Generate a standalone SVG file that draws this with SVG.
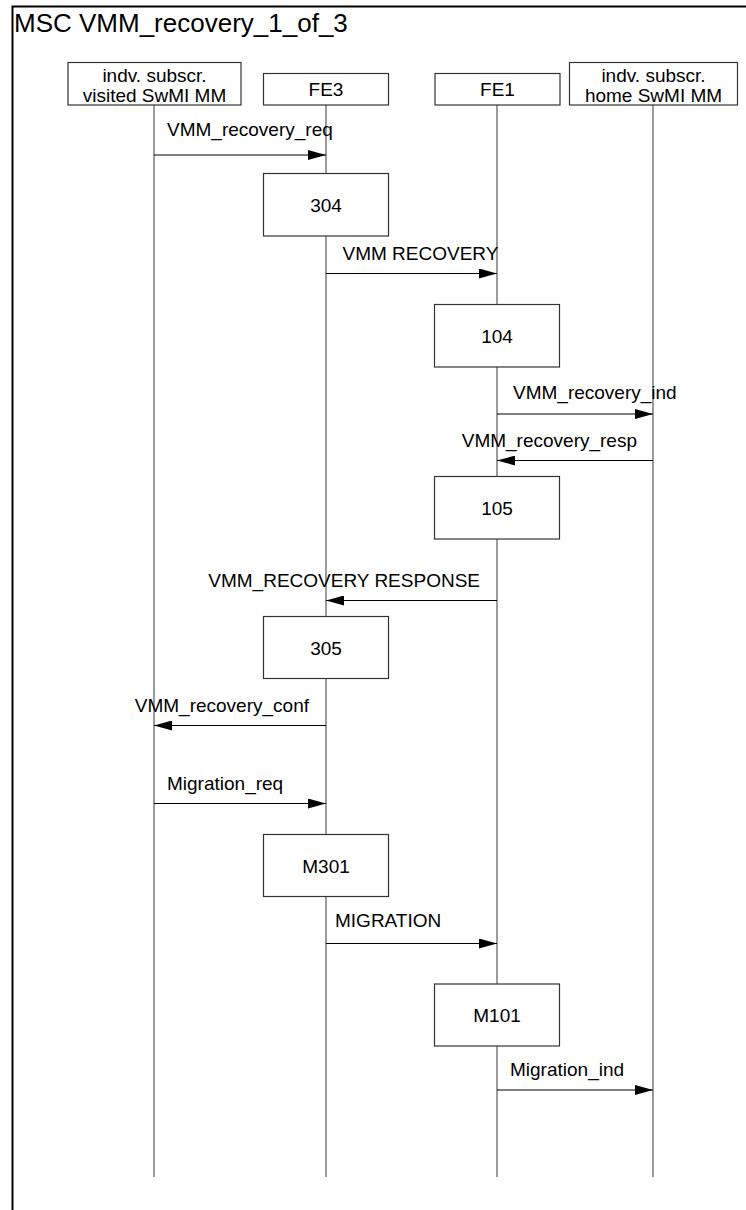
<svg xmlns="http://www.w3.org/2000/svg" width="746" height="1210" viewBox="0 0 746 1210">
<style>
text{font-family:"Liberation Sans",Arial,sans-serif;fill:#000}
.title{font-size:26px}
.hd{font-size:19px;text-anchor:middle}
.lbl{font-size:19px}
.end{text-anchor:end}
.num{font-size:19px;text-anchor:middle}
.box{fill:#fff;stroke:#333;stroke-width:1.2}
.life{stroke:#666;stroke-width:1.3;fill:none}
.msg{stroke:#000;stroke-width:1.2;fill:none;marker-end:url(#ah)}
.frame{stroke:#000;stroke-width:2;fill:none}
</style>
<defs>
<marker id="ah" markerUnits="userSpaceOnUse" markerWidth="18" markerHeight="10" refX="18" refY="5" orient="auto">
<path d="M0,0 L18,5 L0,10 z" fill="#000"/>
</marker>
</defs>
<rect width="746" height="1210" fill="#fff"/>
<path class="frame" d="M12.5,1210 V6.5 H746"/>
<text class="title" x="14" y="31.5">MSC VMM_recovery_1_of_3</text>

<g id="lifelines">
<line class="life" x1="154" y1="105" x2="154" y2="1177"/>
<line class="life" x1="326" y1="105" x2="326" y2="1177"/>
<line class="life" x1="497" y1="105" x2="497" y2="1177"/>
<line class="life" x1="653" y1="105" x2="653" y2="1177"/>
</g>

<g id="inst_visited">
<rect class="box" x="68" y="62.5" width="173" height="42.5"/>
<text class="hd" x="154.5" y="81.5">indv. subscr.</text>
<text class="hd" x="154.5" y="101.5">visited SwMI MM</text>
</g>
<g id="inst_FE3">
<rect class="box" x="263.5" y="73.5" width="125" height="31.5"/>
<text class="hd" x="326" y="96">FE3</text>
</g>
<g id="inst_FE1">
<rect class="box" x="435" y="73.5" width="125" height="31.5"/>
<text class="hd" x="497.5" y="96">FE1</text>
</g>
<g id="inst_home">
<rect class="box" x="569.5" y="62.5" width="168" height="42.5"/>
<text class="hd" x="653.5" y="81.5">indv. subscr.</text>
<text class="hd" x="653.5" y="101.5">home SwMI MM</text>
</g>

<g id="act_304">
<rect class="box" x="263.5" y="173.5" width="125" height="62.5"/>
<text class="num" x="326" y="211.5">304</text>
</g>
<g id="act_104">
<rect class="box" x="434.5" y="304.5" width="125" height="62.5"/>
<text class="num" x="497" y="342.5">104</text>
</g>
<g id="act_105">
<rect class="box" x="434.5" y="476.5" width="125" height="62.5"/>
<text class="num" x="497" y="514.5">105</text>
</g>
<g id="act_305">
<rect class="box" x="263.5" y="616.5" width="125" height="62"/>
<text class="num" x="326" y="654.5">305</text>
</g>
<g id="act_M301">
<rect class="box" x="263.5" y="834.5" width="125" height="62"/>
<text class="num" x="326" y="872.5">M301</text>
</g>
<g id="act_M101">
<rect class="box" x="434.5" y="984" width="125" height="62"/>
<text class="num" x="497" y="1022">M101</text>
</g>

<g id="connectors">
<line class="msg" x1="154" y1="155" x2="326" y2="155"/>
<text class="lbl" x="167" y="135.5">VMM_recovery_req</text>
<line class="msg" x1="326" y1="273.5" x2="497" y2="273.5"/>
<text class="lbl" x="342.5" y="260">VMM RECOVERY</text>
<line class="msg" x1="497" y1="414" x2="653" y2="414"/>
<text class="lbl" x="513" y="399">VMM_recovery_ind</text>
<line class="msg" x1="653" y1="460.5" x2="497" y2="460.5"/>
<text class="lbl end" x="637" y="446.5">VMM_recovery_resp</text>
<line class="msg" x1="497" y1="600.5" x2="326" y2="600.5"/>
<text class="lbl end" x="480" y="586.5">VMM_RECOVERY RESPONSE</text>
<line class="msg" x1="326" y1="725.5" x2="154" y2="725.5"/>
<text class="lbl end" x="309" y="711.5">VMM_recovery_conf</text>
<line class="msg" x1="154" y1="803.5" x2="326" y2="803.5"/>
<text class="lbl" x="167" y="790">Migration_req</text>
<line class="msg" x1="326" y1="943.5" x2="497" y2="943.5"/>
<text class="lbl" x="335" y="926.5">MIGRATION</text>
<line class="msg" x1="497" y1="1090" x2="653" y2="1090"/>
<text class="lbl" x="510" y="1075.5">Migration_ind</text>
</g>
</svg>
